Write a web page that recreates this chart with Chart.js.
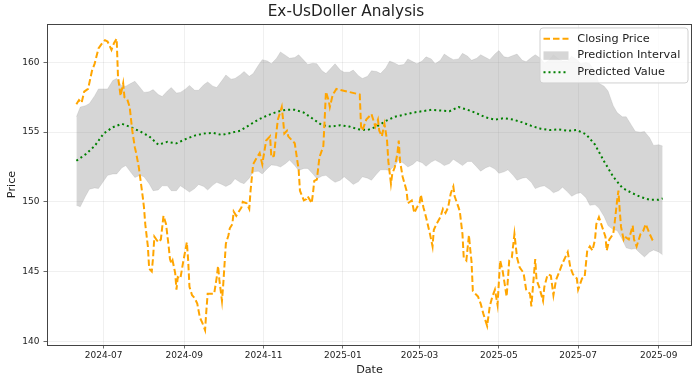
<!DOCTYPE html>
<html>
<head>
<meta charset="utf-8">
<script src="https://cdn.jsdelivr.net/npm/chart.js@4.4.0/dist/chart.umd.min.js"></script>
<style>
  html, body { margin: 0; padding: 0; background: #fff; }
  #wrap { width: 700px; height: 383px; }
</style>
</head>
<body>
<div id="wrap"><canvas id="priceChart" width="700" height="383"></canvas></div>
<script>
// Closing price
var closeDates = [
  "2024-06-10", "2024-06-12", "2024-06-14", "2024-06-16", "2024-06-19", "2024-06-22", "2024-06-24", "2024-06-27", "2024-06-30",
  "2024-07-02", "2024-07-04", "2024-07-07", "2024-07-09", "2024-07-11", "2024-07-12", "2024-07-14", "2024-07-16", "2024-07-17",
  "2024-07-19", "2024-07-21", "2024-07-23", "2024-07-25", "2024-07-26", "2024-07-28", "2024-07-31",
  "2024-08-01", "2024-08-02", "2024-08-04", "2024-08-05", "2024-08-07", "2024-08-08", "2024-08-09", "2024-08-12", "2024-08-14",
  "2024-08-16", "2024-08-18", "2024-08-20", "2024-08-21", "2024-08-22", "2024-08-23", "2024-08-25", "2024-08-26", "2024-08-27",
  "2024-08-29", "2024-08-31",
  "2024-09-03", "2024-09-04", "2024-09-05", "2024-09-07", "2024-09-09", "2024-09-11", "2024-09-12", "2024-09-13", "2024-09-15",
  "2024-09-17", "2024-09-18", "2024-09-19", "2024-09-24", "2024-09-26", "2024-09-27", "2024-09-28", "2024-09-30",
  "2024-10-01", "2024-10-03", "2024-10-05", "2024-10-06", "2024-10-08", "2024-10-09", "2024-10-11", "2024-10-15", "2024-10-16",
  "2024-10-19", "2024-10-21", "2024-10-22", "2024-10-24", "2024-10-27", "2024-10-29", "2024-10-31",
  "2024-11-03", "2024-11-06", "2024-11-07", "2024-11-09", "2024-11-11", "2024-11-12", "2024-11-15", "2024-11-16", "2024-11-17",
  "2024-11-19", "2024-11-20", "2024-11-23", "2024-11-25", "2024-11-28", "2024-11-29",
  "2024-12-02", "2024-12-04", "2024-12-05", "2024-12-08", "2024-12-09", "2024-12-10", "2024-12-12", "2024-12-14", "2024-12-17",
  "2024-12-18", "2024-12-19", "2024-12-21", "2024-12-22", "2024-12-24", "2024-12-25", "2024-12-27",
  "2025-01-14", "2025-01-15", "2025-01-16", "2025-01-19", "2025-01-23", "2025-01-26", "2025-01-28", "2025-01-29", "2025-01-31",
  "2025-02-02", "2025-02-04", "2025-02-05", "2025-02-07", "2025-02-08", "2025-02-10", "2025-02-12", "2025-02-13", "2025-02-14",
  "2025-02-16", "2025-02-19", "2025-02-20", "2025-02-23", "2025-02-25", "2025-02-27",
  "2025-03-01", "2025-03-02", "2025-03-04", "2025-03-06", "2025-03-09", "2025-03-11", "2025-03-12", "2025-03-14", "2025-03-17",
  "2025-03-19", "2025-03-21", "2025-03-23", "2025-03-25", "2025-03-27", "2025-03-28", "2025-03-31",
  "2025-04-01", "2025-04-03", "2025-04-04", "2025-04-06", "2025-04-08", "2025-04-09", "2025-04-10", "2025-04-11", "2025-04-14",
  "2025-04-15", "2025-04-17", "2025-04-19", "2025-04-22", "2025-04-24", "2025-04-26", "2025-04-28", "2025-04-30",
  "2025-05-02", "2025-05-04", "2025-05-07", "2025-05-09", "2025-05-11", "2025-05-13", "2025-05-15", "2025-05-17", "2025-05-20",
  "2025-05-22", "2025-05-25", "2025-05-26", "2025-05-29", "2025-05-30",
  "2025-06-01", "2025-06-04", "2025-06-05", "2025-06-07", "2025-06-08", "2025-06-10", "2025-06-12", "2025-06-14", "2025-06-17",
  "2025-06-19", "2025-06-23", "2025-06-25", "2025-06-27", "2025-06-30",
  "2025-07-01", "2025-07-04", "2025-07-06", "2025-07-08", "2025-07-10", "2025-07-12", "2025-07-14", "2025-07-15", "2025-07-17",
  "2025-07-22", "2025-07-23", "2025-07-25", "2025-07-28", "2025-07-29", "2025-07-31",
  "2025-08-01", "2025-08-02", "2025-08-03", "2025-08-05", "2025-08-06", "2025-08-09", "2025-08-12", "2025-08-13", "2025-08-15",
  "2025-08-18", "2025-08-20", "2025-08-22", "2025-08-25", "2025-08-27", "2025-08-28"
];
var closeValues = [
  157.0, 157.3, 157.1, 157.9, 158.1, 159.4, 159.9, 161.0, 161.4,
  161.6, 161.5, 160.9, 161.4, 161.7, 159.0, 157.6, 158.5, 157.5,
  157.4, 156.8, 155.1, 153.9, 153.5, 152.5, 150.4,
  149.6, 148.4, 146.8, 145.2, 145.0, 146.0, 147.5, 147.1, 147.3,
  149.0, 148.4, 146.8, 145.9, 145.6, 145.8, 144.9, 143.7, 144.6,
  144.5, 145.6,
  147.1, 145.8, 143.9, 143.3, 143.1, 142.7, 142.2, 141.7, 141.3,
  140.8, 142.2, 143.4, 143.4, 144.6, 145.4, 144.4, 142.9,
  144.1, 147.0, 147.6, 148.1, 148.4, 149.3, 149.0, 149.6, 150.0,
  149.9, 149.5, 150.8, 152.7, 153.2, 153.5, 152.7,
  154.4, 154.7, 153.2, 153.3, 155.1, 155.9, 156.8, 155.9, 154.9,
  155.1, 154.7, 154.4, 154.2, 152.3, 150.8,
  150.1, 150.2, 150.4, 149.9, 150.6, 151.5, 151.6, 153.2, 154.0,
  155.9, 157.9, 157.3, 156.8, 157.6, 157.8, 158.1,
  157.7, 155.4, 155.1, 155.9, 156.3, 155.4, 155.9, 155.1, 154.7,
  155.6, 154.4, 152.9, 151.3, 152.0, 152.5, 153.5, 154.4, 152.9,
  151.8, 150.8, 149.9, 150.1, 149.2, 149.6,
  149.9, 150.5, 149.6, 148.9, 147.7, 146.8, 148.0, 148.4, 148.9,
  149.5, 149.2, 149.6, 150.6, 151.1, 150.4, 149.6,
  149.3, 147.7, 146.0, 145.8, 147.6, 146.6, 145.7, 143.6, 143.3,
  143.2, 142.7, 142.0, 141.1, 142.5, 143.2, 143.7, 142.6,
  145.8, 145.0, 143.2, 145.8, 146.0, 147.7, 146.0, 145.3, 144.9,
  143.7, 143.4, 142.5, 145.9, 144.4,
  143.9, 142.9, 143.9, 144.6, 144.8, 144.7, 143.3, 144.4, 145.1,
  145.6, 146.4, 145.3, 144.8, 144.5,
  143.7, 144.5, 144.6, 146.5, 146.8, 146.5, 147.3, 148.4, 148.9,
  147.5, 146.5, 147.3, 147.7, 148.4, 150.1,
  150.8, 149.4, 148.2, 147.3, 147.5, 147.3, 148.3, 147.3, 146.8,
  147.7, 147.9, 148.4, 147.7, 147.3, 147.4
];

// Predicted value, weekly
var predDates = [
  "2024-06-10", "2024-06-17", "2024-06-24", "2024-07-01", "2024-07-08", "2024-07-15", "2024-07-22", "2024-07-29",
  "2024-08-05", "2024-08-12", "2024-08-19", "2024-08-26", "2024-09-02", "2024-09-09", "2024-09-16", "2024-09-23",
  "2024-09-30", "2024-10-07", "2024-10-14", "2024-10-21", "2024-10-28", "2024-11-04", "2024-11-11", "2024-11-18",
  "2024-11-25", "2024-12-02", "2024-12-09", "2024-12-16", "2024-12-23", "2024-12-30", "2025-01-06", "2025-01-13",
  "2025-01-20", "2025-01-27", "2025-02-03", "2025-02-10", "2025-02-17", "2025-02-24", "2025-03-03", "2025-03-10",
  "2025-03-17", "2025-03-24", "2025-03-31", "2025-04-07", "2025-04-14", "2025-04-21", "2025-04-28", "2025-05-05",
  "2025-05-12", "2025-05-19", "2025-05-26", "2025-06-02", "2025-06-09", "2025-06-16", "2025-06-23", "2025-06-30",
  "2025-07-07", "2025-07-14", "2025-07-21", "2025-07-28", "2025-08-04", "2025-08-11", "2025-08-18", "2025-08-25",
  "2025-09-01", "2025-09-04"
];
var predValues = [
  152.95, 153.4, 154.0, 154.9, 155.35, 155.6, 155.35, 155.05, 154.7, 154.1,
  154.3, 154.2, 154.5, 154.75, 154.9, 154.95, 154.8, 154.95, 155.1, 155.5,
  155.9, 156.2, 156.45, 156.6, 156.6, 156.4, 155.95, 155.5, 155.4, 155.5,
  155.4, 155.2, 155.15, 155.4, 155.8, 156.1, 156.25, 156.4, 156.5, 156.6,
  156.55, 156.5, 156.8, 156.6, 156.35, 156.05, 155.9, 156.0, 155.9, 155.7,
  155.45, 155.25, 155.15, 155.2, 155.1, 155.15, 154.85, 154.1, 152.9, 151.8,
  151.0, 150.65, 150.35, 150.15, 150.15, 150.25
];

// Prediction interval, twice a week (Mon / Thu)
var bandDates = [
  "2024-06-10", "2024-06-13", "2024-06-17", "2024-06-20", "2024-06-24", "2024-06-27",
  "2024-07-01", "2024-07-04", "2024-07-08", "2024-07-11", "2024-07-15", "2024-07-18", "2024-07-22", "2024-07-25", "2024-07-29", "2024-08-01",
  "2024-08-05", "2024-08-08", "2024-08-12", "2024-08-15", "2024-08-19", "2024-08-22", "2024-08-26", "2024-08-29",
  "2024-09-02", "2024-09-05", "2024-09-09", "2024-09-12", "2024-09-16", "2024-09-19", "2024-09-23", "2024-09-26",
  "2024-09-30", "2024-10-03", "2024-10-07", "2024-10-10", "2024-10-14", "2024-10-17", "2024-10-21", "2024-10-24",
  "2024-10-28", "2024-10-31", "2024-11-04", "2024-11-07", "2024-11-11", "2024-11-14", "2024-11-18", "2024-11-21",
  "2024-11-25", "2024-11-28", "2024-12-02", "2024-12-05", "2024-12-09", "2024-12-12", "2024-12-16", "2024-12-19",
  "2024-12-23", "2024-12-26", "2024-12-30", "2025-01-02", "2025-01-06", "2025-01-09", "2025-01-13", "2025-01-16",
  "2025-01-20", "2025-01-23", "2025-01-27", "2025-01-30", "2025-02-03", "2025-02-06", "2025-02-10", "2025-02-13",
  "2025-02-17", "2025-02-20", "2025-02-24", "2025-02-27", "2025-03-03", "2025-03-06", "2025-03-10", "2025-03-13",
  "2025-03-17", "2025-03-20", "2025-03-24", "2025-03-27", "2025-03-31", "2025-04-03", "2025-04-07", "2025-04-10",
  "2025-04-14", "2025-04-17", "2025-04-21", "2025-04-24", "2025-04-28", "2025-05-01", "2025-05-05", "2025-05-08",
  "2025-05-12", "2025-05-15", "2025-05-19", "2025-05-22", "2025-05-26", "2025-05-29", "2025-06-02", "2025-06-05",
  "2025-06-09", "2025-06-12", "2025-06-16", "2025-06-19", "2025-06-23", "2025-06-26", "2025-06-30", "2025-07-03",
  "2025-07-07", "2025-07-10", "2025-07-14", "2025-07-17", "2025-07-21", "2025-07-24", "2025-07-28", "2025-07-31",
  "2025-08-04", "2025-08-07", "2025-08-11", "2025-08-14", "2025-08-18", "2025-08-21", "2025-08-25", "2025-08-28",
  "2025-09-01", "2025-09-04"
];
var upperValues = [
  156.1, 156.8, 156.9, 157.05, 157.6, 158.1,
  158.1, 158.1, 158.7, 158.85, 158.3, 158.3, 158.5, 158.65, 158.2, 157.85,
  157.9, 158.05, 157.7, 157.55, 157.95, 158.2, 157.8, 157.85,
  158.1, 158.35, 158.0, 158.0, 158.4, 158.6, 158.3, 158.2,
  158.7, 159.1, 158.8, 158.85, 159.1, 159.35, 159.0, 159.2,
  159.8, 160.2, 160.1, 159.9, 160.3, 160.75, 160.5, 160.3,
  160.35, 160.55, 160.15, 159.85, 159.95, 159.9, 159.4, 159.2,
  159.6, 159.9, 159.45, 159.3, 159.3, 159.45, 159.05, 158.85,
  159.0, 159.4, 159.35, 159.2, 159.6, 160.1, 159.95, 159.8,
  159.85, 160.25, 160.05, 159.9, 160.1, 160.4, 160.25, 159.9,
  160.15, 160.6, 160.35, 160.2, 160.25, 160.65, 160.45, 160.15,
  160.3, 160.55, 160.35, 160.2, 160.6, 160.85, 160.4, 160.35,
  160.5, 160.6, 160.15, 160.05, 160.35, 160.55, 160.3, 159.95,
  160.2, 160.55, 160.25, 160.1, 160.1, 160.45, 160.2, 159.9,
  160.0, 159.9, 159.3, 158.5, 158.3, 157.95, 156.9, 156.4,
  156.1, 156.1, 155.5, 155.05, 155.0, 155.05, 154.6, 154.05,
  154.1, 154.0
];
var lowerValues = [
  149.75, 149.65, 150.4, 150.9, 151.0, 150.95,
  151.5, 151.9, 152.0, 152.0, 152.45, 152.6, 152.1, 151.75, 151.9, 151.8,
  151.3, 150.8, 150.85, 151.15, 151.15, 150.8, 150.8, 151.15,
  150.9, 150.7, 150.95, 151.25, 151.1, 150.85, 151.2, 151.4,
  151.25, 151.1, 151.3, 151.65, 151.4, 151.3, 151.7, 152.15,
  152.2, 152.0, 152.4, 152.65, 152.6, 152.5, 152.75, 153.0,
  152.6, 152.25, 152.4, 152.4, 152.0, 151.65, 151.85, 151.9,
  151.6, 151.4, 151.55, 151.8, 151.5, 151.25, 151.45, 151.8,
  151.7, 151.55, 152.0, 152.3, 152.3, 152.25, 152.6, 153.0,
  152.75, 152.5, 152.7, 152.95, 152.8, 152.55, 152.85, 153.0,
  152.8, 152.6, 152.75, 153.05, 152.8, 152.6, 152.9, 152.9,
  152.5, 152.2, 152.45, 152.55, 152.35, 152.05, 152.15, 152.3,
  151.9, 151.55, 151.7, 151.75, 151.4, 150.95, 151.1, 151.15,
  150.9, 150.65, 150.8, 151.05, 150.7, 150.4, 150.6, 150.65,
  150.3, 149.75, 149.8, 149.55, 148.95, 148.3, 148.0, 147.95,
  147.3, 146.7, 146.6, 146.65, 146.3, 146.05, 146.4, 146.55,
  146.4, 146.2
];

var xTickLabels = ["2024-07", "2024-09", "2024-11", "2025-01", "2025-03", "2025-05", "2025-07", "2025-09"];
var yTickValues = [140, 145, 150, 155, 160];
var legendLabels = ["Closing Price", "Prediction Interval", "Predicted Value"];

// x axis runs in days counted from 2024-07-01
var dayZero = Date.parse("2024-07-01");
function dayOf(s) {
  return (Date.parse(s) - dayZero) / 86400000;
}
function toPoints(dates, values) {
  return dates.map(function (d, i) { return { x: dayOf(d), y: values[i] }; });
}

var xTickDays = xTickLabels.map(function (m) { return dayOf(m + "-01"); });

var FONT = "'DejaVu Sans', 'Liberation Sans', sans-serif";
var bandColor = "rgba(128,128,128,0.32)";
var gridColor = "rgba(0,0,0,0.08)";
var textColor = "#222";

// matplotlib-like frame and legend box
var frameAndLegend = {
  id: "frameAndLegend",
  afterDatasetsDraw: function (chart) {
    var ctx = chart.ctx, a = chart.chartArea;
    ctx.save();
    ctx.strokeStyle = "#444";
    ctx.lineWidth = 1;
    ctx.strokeRect(Math.round(a.left) + 0.5, Math.round(a.top) + 0.5,
      Math.round(a.right - a.left) - 1, Math.round(a.bottom - a.top));

    var x0 = a.right - 152, y0 = a.top + 4, w = 148, h = 55, r = 3;
    ctx.beginPath();
    ctx.moveTo(x0 + r, y0);
    ctx.lineTo(x0 + w - r, y0);
    ctx.arcTo(x0 + w, y0, x0 + w, y0 + r, r);
    ctx.lineTo(x0 + w, y0 + h - r);
    ctx.arcTo(x0 + w, y0 + h, x0 + w - r, y0 + h, r);
    ctx.lineTo(x0 + r, y0 + h);
    ctx.arcTo(x0, y0 + h, x0, y0 + h - r, r);
    ctx.lineTo(x0, y0 + r);
    ctx.arcTo(x0, y0, x0 + r, y0, r);
    ctx.closePath();
    ctx.fillStyle = "rgba(255,255,255,0.8)";
    ctx.fill();
    ctx.strokeStyle = "#d0d0d0";
    ctx.lineWidth = 1;
    ctx.stroke();

    var rows = [y0 + 10.8, y0 + 27.6, y0 + 44.2];
    var hx = x0 + 3.5, hw = 25;

    ctx.strokeStyle = "#FFA500";
    ctx.lineWidth = 2;
    ctx.setLineDash([6.5, 3]);
    ctx.beginPath();
    ctx.moveTo(hx, rows[0]);
    ctx.lineTo(hx + hw, rows[0]);
    ctx.stroke();

    ctx.setLineDash([]);
    ctx.fillStyle = bandColor;
    ctx.fillRect(hx, rows[1] - 4.2, hw, 8.5);

    ctx.strokeStyle = "#008000";
    ctx.setLineDash([2, 3]);
    ctx.beginPath();
    ctx.moveTo(hx, rows[2]);
    ctx.lineTo(hx + hw, rows[2]);
    ctx.stroke();
    ctx.setLineDash([]);

    ctx.fillStyle = textColor;
    ctx.font = "11.3px " + FONT;
    ctx.textAlign = "left";
    ctx.textBaseline = "middle";
    legendLabels.forEach(function (t, i) {
      ctx.fillText(t, x0 + 37.3, rows[i]);
    });
    ctx.restore();
  }
};

var ctx = document.getElementById("priceChart").getContext("2d");
var chart = new Chart(ctx, {
  type: "line",
  data: {
    datasets: [
      {
        label: legendLabels[0],
        data: toPoints(closeDates, closeValues),
        borderColor: "#FFA500",
        borderWidth: 2,
        borderDash: [6.5, 3],
        pointRadius: 0,
        fill: false,
        tension: 0
      },
      {
        label: legendLabels[2],
        data: toPoints(predDates, predValues),
        borderColor: "#008000",
        borderWidth: 2,
        borderDash: [2, 3],
        pointRadius: 0,
        fill: false,
        tension: 0
      },
      {
        label: legendLabels[1],
        data: toPoints(bandDates, upperValues),
        borderColor: bandColor,
        borderWidth: 0.5,
        backgroundColor: bandColor,
        pointRadius: 0,
        fill: "+1",
        tension: 0
      },
      {
        label: "lower",
        data: toPoints(bandDates, lowerValues),
        borderColor: bandColor,
        borderWidth: 0.5,
        pointRadius: 0,
        fill: false,
        tension: 0
      }
    ]
  },
  options: {
    responsive: false,
    animation: false,
    devicePixelRatio: 1,
    layout: { padding: { left: 0, right: 8, top: 0, bottom: 0 } },
    plugins: {
      legend: { display: false },
      tooltip: { enabled: false },
      title: {
        display: true,
        text: "Ex-UsDoller Analysis",
        color: textColor,
        font: { family: FONT, size: 15.3, weight: "normal" },
        padding: { top: 3, bottom: 2.6 }
      }
    },
    scales: {
      x: {
        type: "linear",
        min: -43.6,
        max: 452.6,
        afterBuildTicks: function (scale) {
          scale.ticks = xTickDays.map(function (v) { return { value: v }; });
        },
        afterFit: function (scale) { scale.height = 38; },
        ticks: {
          autoSkip: false,
          maxRotation: 0,
          padding: 1.5,
          color: textColor,
          font: { family: FONT, size: 9 },
          callback: function (value, index) { return xTickLabels[index]; }
        },
        grid: { color: gridColor, lineWidth: 0.8, tickColor: "#444", tickLength: 3.5, tickWidth: 0.8 },
        border: { display: false },
        title: {
          display: true,
          text: "Date",
          color: textColor,
          font: { family: FONT, size: 11.2 },
          padding: { top: 0, bottom: 6.3 }
        }
      },
      y: {
        min: 139.73,
        max: 162.76,
        afterBuildTicks: function (scale) {
          scale.ticks = yTickValues.map(function (v) { return { value: v }; });
        },
        afterFit: function (scale) { scale.width = 47; },
        ticks: {
          padding: 4,
          color: textColor,
          font: { family: FONT, size: 9 },
          callback: function (value) { return String(value); }
        },
        grid: { color: gridColor, lineWidth: 0.8, tickColor: "#444", tickLength: 3.5, tickWidth: 0.8 },
        border: { display: false },
        title: {
          display: true,
          text: "Price",
          color: textColor,
          font: { family: FONT, size: 11.2 },
          padding: { top: 5.6, bottom: 0 }
        }
      }
    }
  },
  plugins: [frameAndLegend]
});
</script>
</body>
</html>
